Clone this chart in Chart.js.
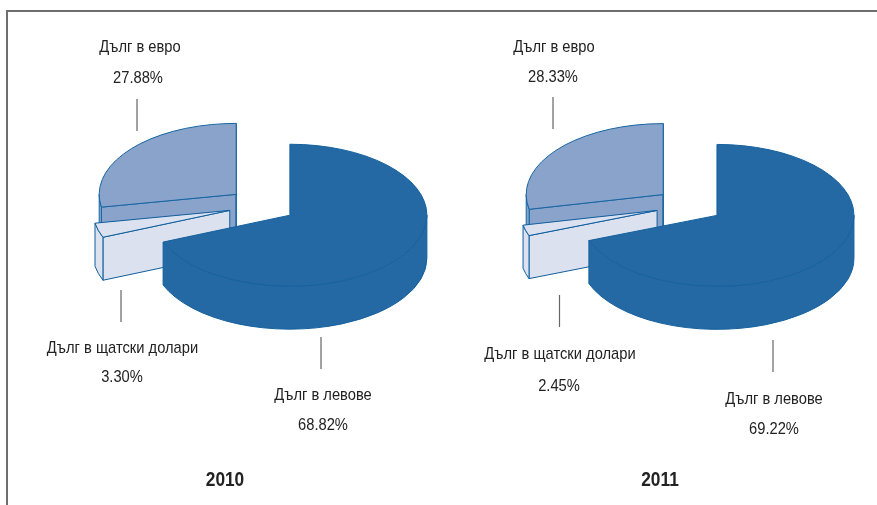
<!DOCTYPE html>
<html>
<head>
<meta charset="utf-8">
<title>Дълг</title>
<script src="https://cdn.jsdelivr.net/npm/chart.js@4/dist/chart.umd.min.js"></script>
<style>
    html, body { margin: 0; padding: 0; background: #fff; overflow: hidden; }
    #frame { position: absolute; left: 6px; top: 10px; width: 880px; height: 500px; border: 2px solid #6e6e6e; box-sizing: border-box; }
    .pie { position: absolute; top: 0; width: 437px; height: 505px; }
    #pie_2010 { left: 0; }
    #pie_2011 { left: 440px; }
</style>
</head>
<body>
<div id="frame"></div>
<div class="pie" id="pie_2010"><canvas id="chart_2010"></canvas></div>
<div class="pie" id="pie_2011"><canvas id="chart_2011"></canvas></div>
<script>
var categories = ["Дълг в левове", "Дълг в щатски долари", "Дълг в евро"];
var years = ["2010", "2011"];
var shares2010 = [68.82, 3.30, 27.88];
var shares2011 = [69.22, 2.45, 28.33];
var shareLabels2010 = ["68.82%", "3.30%", "27.88%"];
var shareLabels2011 = ["69.22%", "2.45%", "28.33%"];
var sliceColors = ["#2469a3", "#dbe1ef", "#8aa3cb"];
var edgeColors = ["#15619f", "#0f5e9e", "#1565a3"];

/* look of the fake 3d pie */
var TILT = 0.518;
var DEPTH = 43;
var EXPLODE = 33.6;
var RADIUS = 137;
var TEXT_FONT = "17px 'Liberation Sans', sans-serif";
var YEAR_FONT = "bold 20px 'Liberation Sans', sans-serif";
var NARROW = 0.865;

function face(ctx, color, edge, draw) {
    ctx.beginPath();
    draw();
    ctx.closePath();
    ctx.fillStyle = color;
    ctx.fill();
    ctx.strokeStyle = edge;
    ctx.lineWidth = 1;
    ctx.stroke();
}

function radialWall(ctx, color, edge, cx, cy, r, angle) {
    var ex = cx + Math.cos(angle) * r;
    var ey = cy + Math.sin(angle) * r * TILT;
    face(ctx, color, edge, function () {
        ctx.moveTo(cx, cy);
        ctx.lineTo(ex, ey);
        ctx.lineTo(ex, ey + DEPTH);
        ctx.lineTo(cx, cy + DEPTH);
    });
}

var pie3d = {
    id: "pie3d",
    beforeDatasetDraw: function (chart, args) {
        var ctx = chart.ctx;
        // back slices first, the big one goes on top of the rest
        var order = [2, 1, 0];
        order.forEach(function (i) {
            var arc = args.meta.data[i];
            var color = sliceColors[i];
            var edge = edgeColors[i];
            var mid = (arc.startAngle + arc.endAngle) / 2;
            var cx = arc.x + Math.cos(mid) * EXPLODE;
            var cy = arc.y + Math.sin(mid) * EXPLODE * TILT;
            var r = arc.outerRadius;

            if (Math.cos(arc.startAngle) < 0) radialWall(ctx, color, edge, cx, cy, r, arc.startAngle);
            if (Math.cos(arc.endAngle) > -0.001) radialWall(ctx, color, edge, cx, cy, r, arc.endAngle);

            var a0 = Math.max(arc.startAngle, 0);
            var a1 = Math.min(arc.endAngle, Math.PI);
            if (a1 > a0) {
                face(ctx, color, edge, function () {
                    ctx.ellipse(cx, cy, r, r * TILT, 0, a0, a1);
                    ctx.ellipse(cx, cy + DEPTH, r, r * TILT, 0, a1, a0, true);
                });
            }

            // top of the slice is the library's own arc, squashed
            ctx.save();
            ctx.translate(cx, cy);
            ctx.scale(1, TILT);
            ctx.translate(-arc.x, -arc.y);
            arc.draw(ctx);
            ctx.restore();

            ctx.beginPath();
            ctx.moveTo(cx, cy);
            ctx.ellipse(cx, cy, r, r * TILT, 0, arc.startAngle, arc.endAngle);
            ctx.closePath();
            ctx.strokeStyle = edge;
            ctx.lineWidth = 1;
            ctx.stroke();
        });
        return false;
    }
};

function narrowText(ctx, text, x, y) {
    ctx.save();
    ctx.translate(x, y);
    ctx.scale(NARROW, 1);
    ctx.fillText(text, 0, 0);
    ctx.restore();
}

var textLabels = {
    id: "textLabels",
    afterDraw: function (chart) {
        var ctx = chart.ctx;
        var cfg = chart.options.plugins.textLabels;
        ctx.save();
        ctx.textAlign = "center";
        ctx.textBaseline = "middle";
        ctx.fillStyle = "#222";
        cfg.spots.forEach(function (s, i) {
            ctx.font = TEXT_FONT;
            narrowText(ctx, categories[i], s.nameX, s.nameY);
            narrowText(ctx, cfg.shareLabels[i], s.valueX, s.valueY);
            ctx.beginPath();
            ctx.moveTo(s.lineX, s.lineY);
            ctx.lineTo(s.lineX, s.lineY + 32);
            ctx.strokeStyle = "#666";
            ctx.lineWidth = 1.2;
            ctx.stroke();
        });
        ctx.font = YEAR_FONT;
        narrowText(ctx, cfg.year, cfg.yearX, 480);
        ctx.restore();
    }
};

function makePie(id, shares, shareLabels, year, padLeft, padBottom, yearX, spots) {
    return new Chart(document.getElementById(id).getContext("2d"), {
        type: "pie",
        data: {
            labels: categories,
            datasets: [{
                data: shares,
                backgroundColor: sliceColors,
                borderWidth: 0,
                radius: RADIUS
            }]
        },
        options: {
            animation: false,
            responsive: true,
            maintainAspectRatio: false,
            layout: { padding: { left: padLeft, bottom: padBottom, top: 0, right: 0 } },
            events: [],
            plugins: {
                legend: { display: false },
                tooltip: { enabled: false },
                textLabels: { spots: spots, shareLabels: shareLabels, year: year, yearX: yearX }
            }
        },
        plugins: [pie3d, textLabels]
    });
}

makePie("chart_2010", shares2010, shareLabels2010, years[0], 87, 94, 225, [
    { nameX: 323, nameY: 395, valueX: 323, valueY: 425, lineX: 321, lineY: 337 },
    { nameX: 122.5, nameY: 348, valueX: 122, valueY: 377, lineX: 121, lineY: 290 },
    { nameX: 140, nameY: 47, valueX: 138, valueY: 78, lineX: 137, lineY: 99 }
]);

makePie("chart_2011", shares2011, shareLabels2011, years[1], 61.6, 94, 220, [
    { nameX: 334, nameY: 399, valueX: 334, valueY: 429, lineX: 333, lineY: 340 },
    { nameX: 120, nameY: 354, valueX: 119, valueY: 386, lineX: 119.5, lineY: 295 },
    { nameX: 114, nameY: 47, valueX: 113, valueY: 77, lineX: 113, lineY: 97 }
]);
</script>
</body>
</html>
